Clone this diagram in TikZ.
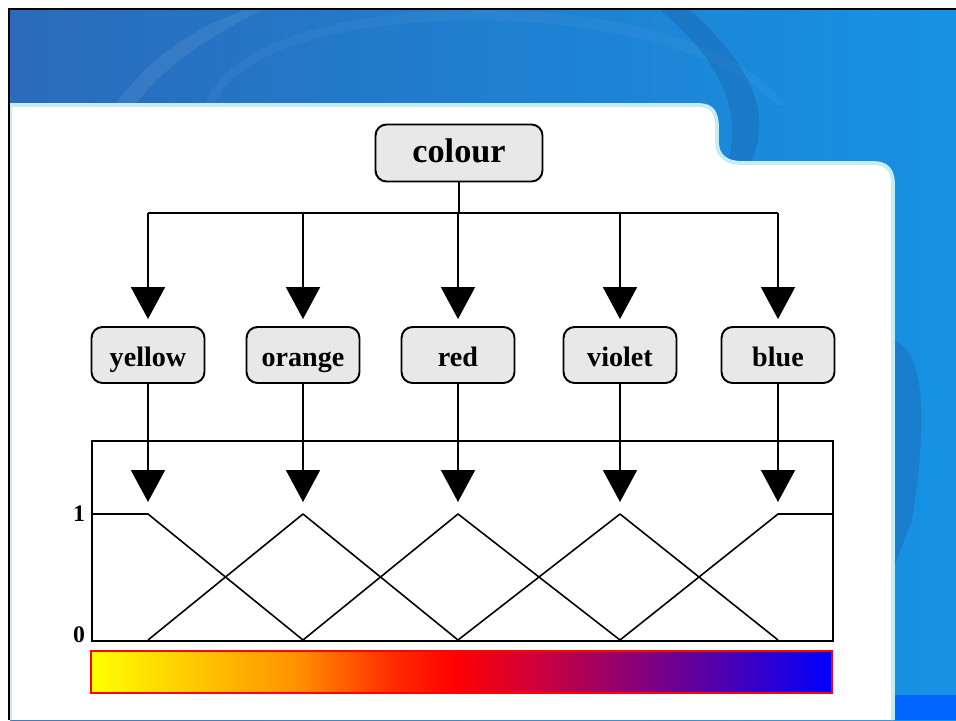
\documentclass[tikz,border=0pt]{standalone}
\usepackage{fontspec}
\setmainfont{Liberation Serif}
\usetikzlibrary{arrows.meta}

\definecolor{bgL}{HTML}{2A6BBA}
\definecolor{bgM}{HTML}{1E70C4}
\definecolor{bgR}{HTML}{1692E4}
\definecolor{swdark}{HTML}{1A5EA8}
\definecolor{rim}{HTML}{C4EEF0}
\definecolor{boxgrey}{HTML}{E8E8E8}
\definecolor{tabblue}{HTML}{0066FF}

\definecolor{sp0}{HTML}{FFFF00}
\definecolor{sp1}{HTML}{FFD800}
\definecolor{sp2}{HTML}{FF9000}
\definecolor{sp3}{HTML}{FF3000}
\definecolor{sp4}{HTML}{FF0000}
\definecolor{sp5}{HTML}{D0003C}
\definecolor{sp6}{HTML}{900070}
\definecolor{sp7}{HTML}{5000B0}
\definecolor{sp8}{HTML}{0000FF}

% colour spectrum from yellow to blue (path fitted to 25bp..75bp)
\pgfdeclarehorizontalshading{spectrum}{100bp}{%
  color(0bp)=(sp0); color(25bp)=(sp0); color(30bp)=(sp1);
  color(39bp)=(sp2); color(45bp)=(sp3); color(49.5bp)=(sp4);
  color(55bp)=(sp5); color(61bp)=(sp6); color(67.5bp)=(sp7);
  color(75bp)=(sp8); color(100bp)=(sp8)}

\tikzset{
  catbox/.style={draw=black, line width=1.1pt, fill=boxgrey,
    rounded corners=0.22cm, minimum width=2.26cm, minimum height=1.12cm,
    inner sep=0pt, text height=0.44cm, text depth=0pt,
    font=\fontsize{16}{18}\selectfont\bfseries},
  rootbox/.style={catbox, minimum width=3.34cm, minimum height=1.14cm,
    text height=0.38cm, font=\fontsize{19.5}{22}\selectfont\bfseries},
  link/.style={line width=1.1pt},
  feed/.style={link, -{Triangle[width=0.68cm,length=0.64cm]}},
  mf/.style={line width=0.9pt, line join=round},
  axislabel/.style={inner sep=0pt, font=\fontsize{13.5}{15}\selectfont\bfseries},
}

\begin{document}
\begin{tikzpicture}[x=0.02cm, y=-0.02cm]
\useasboundingbox (0,0) rectangle (956,720);
\fill[white] (0,0) rectangle (956,720);

% slide background
\shade[left color=bgL, middle color=bgM, right color=bgR] (10,10) rectangle (956,720);
\fill[white, opacity=0.07] (115,105) .. controls (150,55) and (200,25) .. (245,10)
  -- (262,10) .. controls (212,35) and (165,65) .. (135,105) -- cycle;
\fill[white, opacity=0.04] (205,105) .. controls (245,-20) and (690,-25) .. (785,105)
  -- (776,105) .. controls (672,-8) and (258,-8) .. (214,105) -- cycle;
\fill[swdark, opacity=0.35] (690,10) .. controls (745,60) and (778,112) .. (748,168)
  -- (726,168) .. controls (745,112) and (720,60) .. (660,10) -- cycle;
\fill[swdark, opacity=0.35] (893,340) .. controls (925,350) and (928,420) .. (912,520)
  -- (893,570) -- cycle;
\fill[tabblue] (895,695) rectangle (956,720);

% content panel
\fill[black, opacity=0.12] (10,108) -- (698,108) .. controls (712,108) and (717,115) .. (717,131)
  -- (717,145) .. controls (717,159) and (726,166) .. (742,166) -- (873,166)
  .. controls (887,166) and (893,173) .. (893,188) -- (893,720) -- (10,720) -- cycle;
\filldraw[fill=white, draw=rim, line width=2.2pt]
  (10,720) -- (10,105) -- (698,105) .. controls (712,105) and (717,112) .. (717,128)
  -- (717,142) .. controls (717,156) and (726,163) .. (742,163) -- (873,163)
  .. controls (887,163) and (893,170) .. (893,185) -- (893,720);

% frame
\draw[line width=1.2pt] (9,720) -- (9,9) -- (956,9);

% hierarchy
\node[rootbox] (colour) at (459,153) {colour};
\node[catbox] (yellow) at (148,355) {yellow};
\node[catbox] (orange) at (303,355) {orange};
\node[catbox] (red)    at (458,355) {red};
\node[catbox] (violet) at (620,355) {violet};
\node[catbox] (blue)   at (778,355) {blue};

\coordinate (bus) at (459,213);
\draw[link] (colour.south) -- (bus);
\draw[link] (yellow |- bus) -- (blue |- bus);
\foreach \c in {yellow,orange,red,violet,blue}
  \draw[feed, shorten >=0.14cm] (\c |- bus) -- (\c.north);

% membership chart
\node[draw, line width=1.1pt, minimum width=14.82cm, minimum height=4cm, inner sep=0pt]
  (chart) at (462.5,541) {};
\coordinate (pk1) at (148,514);
\coordinate (pk2) at (303,514);
\coordinate (pk3) at (458,514);
\coordinate (pk4) at (620,514);
\coordinate (pk5) at (778,514);
\coordinate (b1) at (148,640);
\coordinate (b2) at (303,640);
\coordinate (b3) at (458,640);
\coordinate (b4) at (620,640);
\coordinate (b5) at (778,640);

\draw[feed, shorten >=0.24cm] (yellow.south) -- (pk1);
\draw[feed, shorten >=0.24cm] (orange.south) -- (pk2);
\draw[feed, shorten >=0.24cm] (red.south) -- (pk3);
\draw[feed, shorten >=0.24cm] (violet.south) -- (pk4);
\draw[feed, shorten >=0.24cm] (blue.south) -- (pk5);

\draw[mf] (chart.west |- pk1) -- (pk1) -- (b2);
\draw[mf] (b1) -- (pk2) -- (b3);
\draw[mf] (b2) -- (pk3) -- (b4);
\draw[mf] (b3) -- (pk4) -- (b5);
\draw[mf] (b4) -- (pk5) -- (chart.east |- pk5);

\node[axislabel] (one)  at (79,514) {1};
\node[axislabel] (zero) at (79,635) {0};

% colour scale
\node[draw=red, line width=0.9pt, shade, shading=spectrum, inner sep=0pt,
  minimum width=14.82cm, minimum height=0.84cm] (scale) at (461.5,672) {};
\end{tikzpicture}
\end{document}
